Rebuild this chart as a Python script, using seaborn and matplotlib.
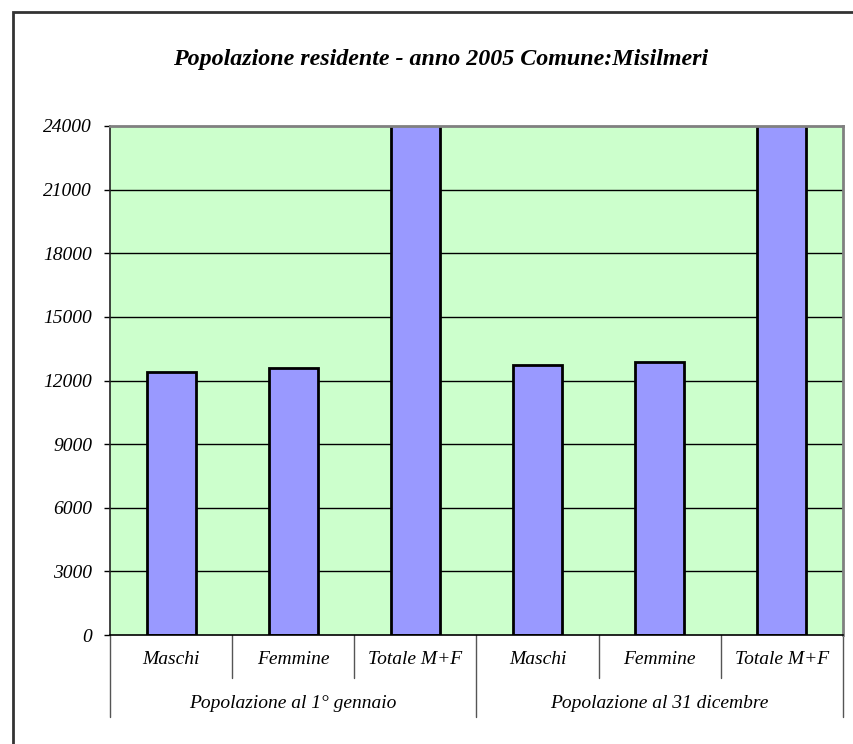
import pandas as pd
import matplotlib.pyplot as plt
import seaborn as sns
from matplotlib.patches import Rectangle

# values
groups = ["Popolazione al 1° gennaio", "Popolazione al 31 dicembre"]
subcats = ["Maschi", "Femmine", "Totale M+F"]
values_gen = [12400, 12590, 24990]
values_dic = [12730, 12870, 25600]
y_ticks = [0, 3000, 6000, 9000, 12000, 15000, 18000, 21000, 24000]

rows = []
for g, vals in zip(groups, [values_gen, values_dic]):
    for s, v in zip(subcats, vals):
        rows.append({"key": f"{g} | {s}", "gruppo": g, "voce": s, "valore": v})
df = pd.DataFrame(rows)

sns.set_style("white")
plt.rcParams['font.family'] = ['Liberation Serif', 'DejaVu Serif']
plt.rcParams['text.color'] = 'black'
plt.rcParams['ytick.labelcolor'] = 'black'

fig = plt.figure(figsize=(8.54, 7.44), dpi=100)
ax = fig.add_axes([110 / 854, 1 - 635 / 744, 733 / 854, 509 / 744])
ax.set_facecolor('#CCFFCC')

# outer chart frame (only left/top visible in the picture)
fig.patches.append(Rectangle((13 / 854, -0.1), 1.2, 1 - 12 / 744 + 0.1,
                             transform=fig.transFigure, fill=False,
                             edgecolor='#333333', linewidth=2))

for t in y_ticks[1:-1]:
    ax.axhline(t, color='black', linewidth=1, zorder=1)

sns.barplot(data=df, x="key", y="valore", order=list(df["key"]),
            color='#9999FF', saturation=1, width=0.4,
            edgecolor='black', linewidth=2, ax=ax, zorder=2)

ax.set_ylim(0, 24000)
ax.set_xlim(-0.5, 5.5)
ax.set_yticks(y_ticks)
ax.set_yticklabels([str(t) for t in y_ticks], fontsize=14, style='italic', color='black')
ax.tick_params(axis='y', length=4.3, width=1, color='black', pad=8.6, left=True)
ax.set_xticks([])
ax.set_xlabel("")
ax.set_ylabel("")

for side in ['top', 'right']:
    ax.spines[side].set_color('#808080')
    ax.spines[side].set_linewidth(2)
ax.spines['left'].set_color('#222222')
ax.spines['bottom'].set_color('black')
ax.spines['left'].set_linewidth(1.2)
ax.spines['bottom'].set_linewidth(1.2)

# two-level category axis
tr = ax.get_xaxis_transform()
for i, lab in enumerate(df["voce"]):
    ax.text(i, -0.049, lab, transform=tr, ha='center', va='center',
            fontsize=14, style='italic', color='black')
for j, g in enumerate(groups):
    ax.text(j * 3 + 1, -0.1336, g, transform=tr, ha='center', va='center',
            fontsize=14, style='italic', color='black')
for x in [0.5, 1.5, 3.5, 4.5]:
    ax.plot([x, x], [0, -0.0845], transform=tr, color='#555555',
            linewidth=1, clip_on=False)
for x in [-0.5, 2.5, 5.5]:
    ax.plot([x, x], [0, -0.161], transform=tr, color='#555555',
            linewidth=1, clip_on=False)

fig.text(441 / 854, 1 - 60 / 744, "Popolazione residente - anno 2005 Comune:Misilmeri",
         ha='center', va='center', fontsize=17.3, style='italic', weight='bold',
         color='black')

fig.savefig("out.png", dpi=100)
plt.close(fig)
